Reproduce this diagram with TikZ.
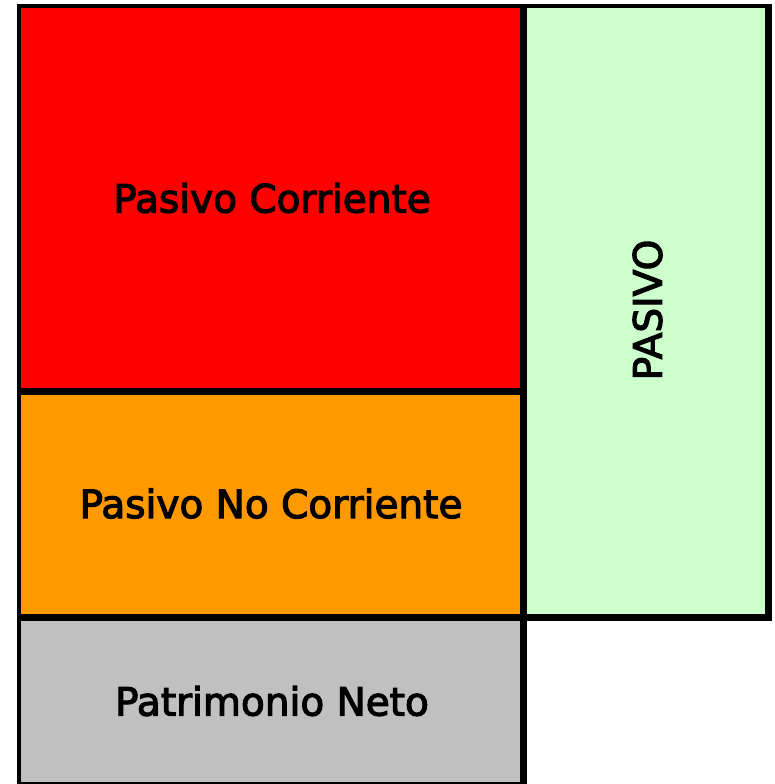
\documentclass[tikz,border=0pt]{standalone}
\usepackage{fontspec}
\setmainfont{DejaVu Sans}
\newfontfamily\lblfont[FakeBold=3]{DejaVu Sans}
\definecolor{pcred}{HTML}{FF0000}
\definecolor{pncorange}{HTML}{FF9900}
\definecolor{pasgreen}{HTML}{CCFFCC}
\definecolor{pngray}{HTML}{C0C0C0}
\tikzset{
  label/.style={font=\lblfont\fontsize{39}{41}\selectfont, text=black, inner sep=0pt},
  bar/.style={fill=black}
}
\begin{document}
\begin{tikzpicture}[x=1pt,y=-1pt]
\useasboundingbox (0,0) rectangle (775,784);
% colour areas
\fill[pcred] (21,8) rectangle (520,388);
\fill[pncorange] (21,395) rectangle (520,614);
\fill[pngray] (21,621) rectangle (520,782);
\fill[pasgreen] (527,8) rectangle (765,614);
% labels
\node[label] (pc) at (272,198) {Pasivo Corriente};
\node[label] (pnc) at (271,503.5) {Pasivo No Corriente};
\node[label] (pn) at (272,701) {Patrimonio Neto};
\node[label, rotate=90] (pas) at (647.5,310) {PASIVO};
% black borders
\fill[bar] (17,4) rectangle (21,784);
\fill[bar] (17,4) rectangle (772,8);
\fill[bar] (520,4) rectangle (527,784);
\fill[bar] (765,4) rectangle (772,621);
\fill[bar] (17,388) rectangle (520,395);
\fill[bar] (17,614) rectangle (772,621);
\fill[bar] (17,782) rectangle (527,784);
\end{tikzpicture}
\end{document}
